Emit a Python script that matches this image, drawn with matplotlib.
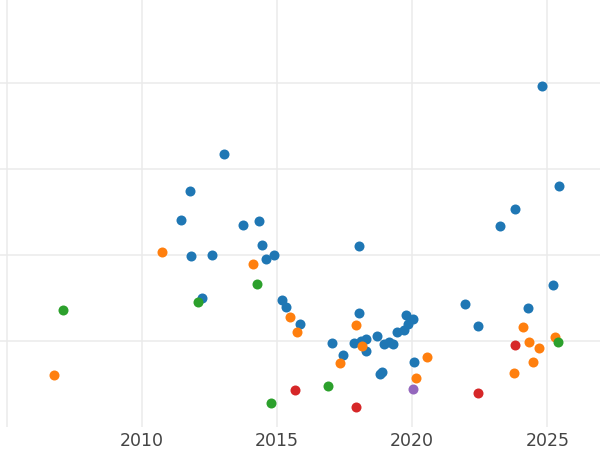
import matplotlib.pyplot as plt

# точки по группам (год, значение)
blue_x = [2013.02, 2011.77, 2011.44, 2013.75, 2014.32, 2014.43, 2011.81, 2012.60, 2014.60, 2014.88,
          2012.22, 2015.19, 2015.31, 2015.83, 2017.03, 2017.44, 2018.02, 2017.85, 2018.09, 2018.30,
          2018.30, 2018.70, 2018.95, 2019.15, 2019.27, 2019.43, 2019.69, 2019.76, 2019.83, 2020.04,
          2018.82, 2018.89, 2020.07, 2021.96, 2018.03, 2024.79, 2025.44, 2023.79, 2023.25, 2025.22,
          2024.29, 2022.43]
blue_y = [3.17, 2.74, 2.41, 2.35, 2.40, 2.12, 1.99, 2.00, 1.95, 2.00,
          1.50, 1.48, 1.40, 1.20, 0.98, 0.84, 1.32, 0.98, 1.00, 1.02,
          0.88, 1.06, 0.96, 0.99, 0.97, 1.10, 1.13, 1.30, 1.20, 1.26,
          0.62, 0.64, 0.75, 1.43, 2.10, 3.97, 2.80, 2.53, 2.34, 1.65,
          1.38, 1.18]

orange_x = [2006.73, 2010.74, 2014.09, 2015.48, 2015.72, 2017.92, 2018.13, 2017.32, 2020.53, 2020.15,
            2024.11, 2024.32, 2024.68, 2024.47, 2023.76, 2025.27]
orange_y = [0.60, 2.04, 1.90, 1.28, 1.10, 1.19, 0.94, 0.74, 0.81, 0.57,
            1.16, 0.99, 0.92, 0.75, 0.63, 1.05]

green_x = [2007.07, 2012.07, 2014.25, 2016.89, 2014.77, 2025.39]
green_y = [1.36, 1.45, 1.66, 0.48, 0.28, 0.99]

red_x = [2015.67, 2017.93, 2022.44, 2023.81]
red_y = [0.43, 0.23, 0.40, 0.95]

purple_x = [2020.01]
purple_y = [0.44]

x_ticks = [2005, 2010, 2015, 2020, 2025]
x_labels = ['', '2010', '2015', '2020', '2025']
y_ticks = [1, 2, 3, 4]

fig = plt.figure(figsize=(6, 4.5), dpi=100)
ax = fig.add_axes([0, 1 - 427 / 450, 1, 427 / 450])

groups = [
    (blue_x, blue_y, '#1f77b4'),
    (orange_x, orange_y, '#ff7f0e'),
    (green_x, green_y, '#2ca02c'),
    (red_x, red_y, '#d62728'),
    (purple_x, purple_y, '#9467bd'),
]
for xs, ys, c in groups:
    ax.scatter(xs, ys, s=52, color=c, linewidths=0, zorder=3)

ax.set_xlim(2004.74, 2026.95)
ax.set_ylim(0, 4.965)
ax.set_xticks(x_ticks, x_labels)
ax.set_yticks(y_ticks, [''] * len(y_ticks))
ax.tick_params(length=0, labelsize=12.5, labelcolor='#444444', pad=3.5)
ax.grid(True, color='#ebebeb', linewidth=1.1)
ax.set_axisbelow(True)
for s in ax.spines.values():
    s.set_visible(False)

plt.savefig('out.png', dpi=100)
